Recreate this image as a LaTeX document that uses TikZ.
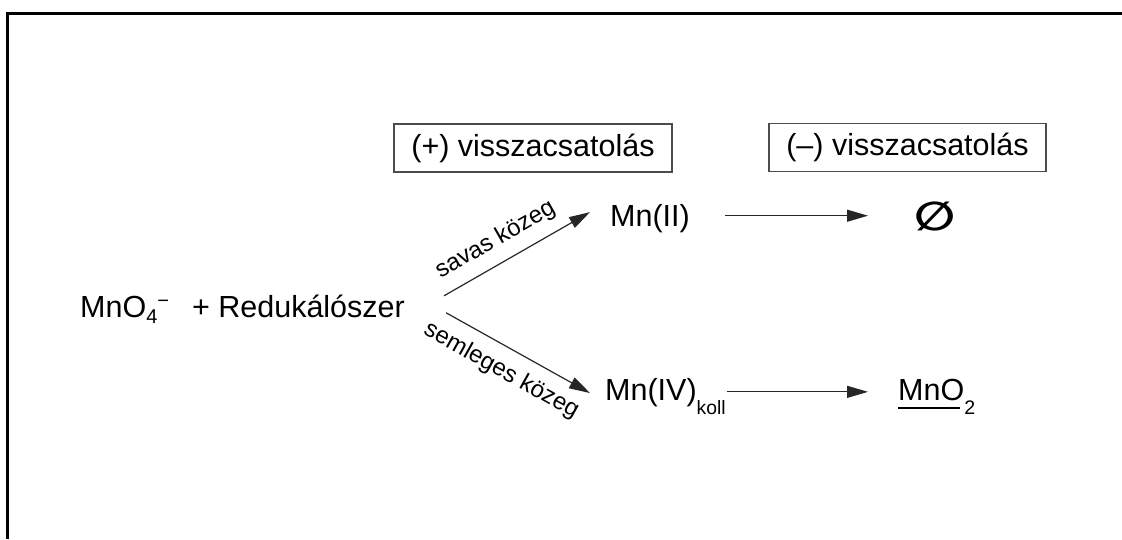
\documentclass[tikz,border=0pt]{standalone}
\usepackage{fontspec}
\setmainfont{Liberation Sans}
\newfontfamily\symfont{DejaVu Sans}
\usetikzlibrary{arrows.meta}
\begin{document}
\begin{tikzpicture}[x=1pt,y=-1pt,
  txt/.style={inner sep=0pt, font=\fontsize{30.5}{36}\selectfont, text=black},
  lbl/.style={inner sep=0pt, font=\fontsize{24}{28}\selectfont, sloped, text=black},
  fb/.style={draw=black!70, line width=1.4pt, inner sep=0pt, font=\fontsize{30.5}{36}\selectfont, minimum height=48pt},
  arr/.style={draw=black!85, line width=1.2pt, -{Triangle[length=21pt,width=12pt]}},
]
\useasboundingbox (0,0) rectangle (1122,539);
\draw[line width=3pt] (7.5,539) -- (7.5,13.5) -- (1122,13.5);

\node[txt, anchor=base west] (main) at (80,317)
  {MnO{\fontsize{20}{20}\selectfont\raisebox{-6pt}{4}\raisebox{10pt}{−}}\hspace{23pt}+ Redukálószer};
\node[fb, minimum width=278pt] (pos) at (533,148) {(+) visszacsatolás};
\node[fb, minimum width=277pt] (neg) at (907.5,147.7) {(–) visszacsatolás};
\node[txt, anchor=base west] (mn2) at (610,226) {Mn(II)};
\node[txt, anchor=base west] (mn4) at (605,400)
  {Mn(IV)\raisebox{-14pt}{\fontsize{19.3}{20}\selectfont koll}};
\node[txt, anchor=base west] (mno2) at (898,400)
  {\rlap{\rule[-9pt]{62pt}{1.6pt}}MnO\raisebox{-14.5pt}{\fontsize{19.6}{20}\selectfont 2}};
\node[inner sep=0pt, font=\symfont\bfseries\fontsize{40}{44}\selectfont] (empty) at (935,216)
  {\scalebox{1.2}[1]{∅}};

\draw[arr] ([shift={(39,-13)}]main.east) -- ([shift={(-20,-6)}]mn2.west)
  node[lbl, above=11pt, pos=0.43] (l1) {savas közeg};
\draw[arr] ([shift={(41,4)}]main.east) -- ([shift={(-15,-3)}]mn4.west)
  node[lbl, below=12pt, pos=0.464] (l2) {semleges közeg};

\draw[arr, shorten <=35pt, shorten >=67pt] ([yshift=2.4pt]mn2.east) -- ([yshift=2.4pt]mn2.east -| empty.center);
\draw[arr, shorten <=1pt, shorten >=30pt] ([yshift=4.2pt]mn4.east) -- ([yshift=4.2pt]mn4.east -| mno2.west);
\end{tikzpicture}
\end{document}
